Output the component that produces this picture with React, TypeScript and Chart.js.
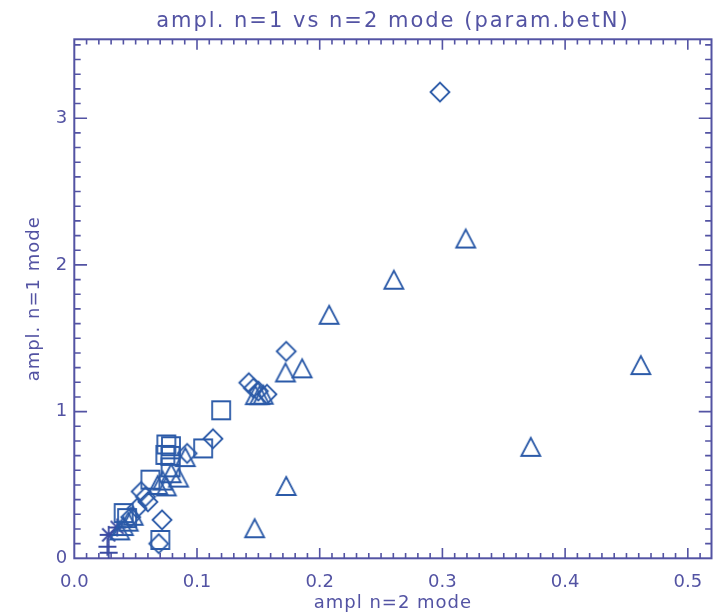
import React, { useEffect, useRef } from "react";
import { Chart, registerables } from "chart.js";

Chart.register(...registerables);

// amplitude of the n=2 mode (x) against the n=1 mode (y), one array pair per symbol
const diamondX = [0.298, 0.1727, 0.1422, 0.146, 0.15, 0.157, 0.113, 0.092, 0.0545, 0.058, 0.06, 0.0511, 0.046, 0.0715, 0.0688];
const diamondY = [3.178, 1.411, 1.197, 1.16, 1.14, 1.118, 0.815, 0.715, 0.455, 0.42, 0.385, 0.341, 0.28, 0.262, 0.1];

const triangleX = [0.319, 0.2604, 0.2077, 0.1721, 0.1857, 0.4617, 0.1476, 0.151, 0.154, 0.372, 0.1727, 0.147, 0.0905, 0.079, 0.085, 0.072, 0.075, 0.068, 0.044, 0.04, 0.048, 0.037];
const triangleY = [2.18, 1.899, 1.66, 1.267, 1.295, 1.317, 1.112, 1.112, 1.115, 0.76, 0.493, 0.205, 0.69, 0.58, 0.55, 0.53, 0.49, 0.5, 0.25, 0.22, 0.29, 0.19];

const squareX = [0.1197, 0.105, 0.075, 0.0788, 0.0742, 0.0783, 0.0785, 0.062, 0.0402, 0.043, 0.0701];
const squareY = [1.009, 0.749, 0.776, 0.764, 0.705, 0.698, 0.62, 0.536, 0.308, 0.274, 0.125];

const asteriskX = [0.028, 0.035];
const asteriskY = [0.16, 0.21];

const plusX = [0.027, 0.028];
const plusY = [0.079, 0.038];

// axis ticks
const xMajorTicks = [0, 0.1, 0.2, 0.3, 0.4, 0.5];
const yMajorTicks = [0, 1, 2, 3];
const xMinorStep = 0.01;
const yMinorStep = 0.1;
const X_MAX = 0.5193;
const Y_MAX = 3.538;

const TITLE = "ampl. n=1 vs n=2 mode (param.betN)";
const X_TITLE = "ampl n=2 mode";
const Y_TITLE = "ampl. n=1 mode";

const AXIS_COLOR = "#5353a3";
const MARK_COLOR = "#2b5aa8";
const STAR_COLOR = "#3a4aa2";
const FONT = "'DejaVu Sans', sans-serif";

type MarkerKind = "diamond" | "triangle" | "square" | "plus" | "asterisk";

// symbol sprites shaped like the classic plot symbols, centred on the data point
function makeMarker(kind: MarkerKind, color: string): HTMLCanvasElement {
  const size = 26;
  const c = document.createElement("canvas");
  c.width = size;
  c.height = size;
  const g = c.getContext("2d")!;
  const m = size / 2;
  g.strokeStyle = color;
  g.lineWidth = 1.8;
  g.lineJoin = "miter";
  g.beginPath();
  switch (kind) {
    case "diamond":
      g.moveTo(m - 9.5, m);
      g.lineTo(m, m - 9.5);
      g.lineTo(m + 9.5, m);
      g.lineTo(m, m + 9.5);
      g.closePath();
      break;
    case "triangle":
      g.moveTo(m - 9.5, m + 9);
      g.lineTo(m, m - 9);
      g.lineTo(m + 9.5, m + 9);
      g.closePath();
      break;
    case "square":
      g.rect(m - 9, m - 9, 18, 18);
      break;
    case "plus":
      g.moveTo(m - 9, m);
      g.lineTo(m + 9, m);
      g.moveTo(m, m - 9);
      g.lineTo(m, m + 9);
      break;
    case "asterisk":
      g.moveTo(m - 9, m);
      g.lineTo(m + 9, m);
      g.moveTo(m, m - 9);
      g.lineTo(m, m + 9);
      g.moveTo(m - 6.5, m - 6.5);
      g.lineTo(m + 6.5, m + 6.5);
      g.moveTo(m - 6.5, m + 6.5);
      g.lineTo(m + 6.5, m - 6.5);
      break;
  }
  g.stroke();
  return c;
}

function pairs(xs: number[], ys: number[]) {
  return xs.map((x, i) => ({ x, y: ys[i] }));
}

// boxed axes with inward major/minor ticks on all four sides, plus titles
const boxedAxes = {
  id: "boxedAxes",
  beforeDatasetsDraw(chart: any) {
    const { ctx, chartArea: a, scales } = chart;
    const xs = scales.x;
    const ys = scales.y;
    const w = a.right - a.left;
    const h = a.bottom - a.top;
    ctx.save();
    ctx.strokeStyle = AXIS_COLOR;
    ctx.lineWidth = 2;
    ctx.strokeRect(a.left, a.top, w, h);

    ctx.lineWidth = 1.6;
    ctx.beginPath();
    const xMaj = 0.02 * h;
    const nx = Math.floor(X_MAX / xMinorStep + 1e-6);
    for (let i = 1; i <= nx; i++) {
      const px = xs.getPixelForValue(i * xMinorStep);
      const len = i % 10 === 0 ? xMaj : xMaj / 2;
      ctx.moveTo(px, a.bottom);
      ctx.lineTo(px, a.bottom - len);
      ctx.moveTo(px, a.top);
      ctx.lineTo(px, a.top + len);
    }
    const yMaj = 0.02 * w;
    const ny = Math.floor(Y_MAX / yMinorStep + 1e-6);
    for (let i = 1; i <= ny; i++) {
      const py = ys.getPixelForValue(i * yMinorStep);
      const len = i % 10 === 0 ? yMaj : yMaj / 2;
      ctx.moveTo(a.left, py);
      ctx.lineTo(a.left + len, py);
      ctx.moveTo(a.right, py);
      ctx.lineTo(a.right - len, py);
    }
    ctx.stroke();

    ctx.fillStyle = AXIS_COLOR;
    ctx.textAlign = "center";
    ctx.textBaseline = "middle";
    const cx = (a.left + a.right) / 2;
    const cy = (a.top + a.bottom) / 2;

    ctx.font = `21px ${FONT}`;
    (ctx as any).letterSpacing = "2px";
    ctx.fillText(TITLE, cx, 22);

    ctx.font = `18px ${FONT}`;
    (ctx as any).letterSpacing = "1px";
    ctx.fillText(X_TITLE, cx, 603);

    ctx.translate(34, cy);
    ctx.rotate(-Math.PI / 2);
    ctx.fillText(Y_TITLE, 0, 0);
    ctx.restore();
  },
};

export default function App() {
  const canvasRef = useRef<HTMLCanvasElement | null>(null);

  useEffect(() => {
    document.body.style.margin = "0";
    const canvas = canvasRef.current;
    if (!canvas) return;

    const diamond = makeMarker("diamond", MARK_COLOR);
    const triangle = makeMarker("triangle", MARK_COLOR);
    const square = makeMarker("square", MARK_COLOR);
    const plus = makeMarker("plus", STAR_COLOR);
    const asterisk = makeMarker("asterisk", STAR_COLOR);

    const chart = new Chart(canvas, {
      type: "scatter",
      data: {
        datasets: [
          { label: "diamond", data: pairs(diamondX, diamondY), pointStyle: diamond as any, pointRadius: 9 },
          { label: "triangle", data: pairs(triangleX, triangleY), pointStyle: triangle as any, pointRadius: 9 },
          { label: "square", data: pairs(squareX, squareY), pointStyle: square as any, pointRadius: 9 },
          { label: "asterisk", data: pairs(asteriskX, asteriskY), pointStyle: asterisk as any, pointRadius: 9 },
          { label: "plus", data: pairs(plusX, plusY), pointStyle: plus as any, pointRadius: 9 },
        ],
      },
      options: {
        animation: false,
        responsive: false,
        devicePixelRatio: 1,
        events: [],
        layout: { padding: { left: 0, top: 39.3, right: 13.5, bottom: 0 } },
        plugins: {
          legend: { display: false },
          tooltip: { enabled: false },
          title: { display: false },
        },
        scales: {
          x: {
            type: "linear",
            min: 0,
            max: X_MAX,
            afterBuildTicks: (s: any) => {
              s.ticks = xMajorTicks.map((value) => ({ value }));
            },
            afterFit: (s: any) => {
              s.height = 57.7;
            },
            grid: { display: false, drawTicks: false },
            border: { display: false },
            ticks: {
              color: AXIS_COLOR,
              font: { family: FONT, size: 18 },
              padding: 13,
              maxRotation: 0,
              callback: (v: any) => Number(v).toFixed(1),
            },
          },
          y: {
            type: "linear",
            min: 0,
            max: Y_MAX,
            afterBuildTicks: (s: any) => {
              s.ticks = yMajorTicks.map((value) => ({ value }));
            },
            afterFit: (s: any) => {
              s.width = 74.3;
            },
            grid: { display: false, drawTicks: false },
            border: { display: false },
            ticks: {
              color: AXIS_COLOR,
              font: { family: FONT, size: 18 },
              padding: 7,
              callback: (v: any) => String(v),
            },
          },
        },
      },
      plugins: [boxedAxes],
    });

    return () => chart.destroy();
  }, []);

  return (
    <div style={{ width: 725, height: 616, background: "#ffffff" }}>
      <canvas ref={canvasRef} width={725} height={616} style={{ display: "block" }} />
    </div>
  );
}
